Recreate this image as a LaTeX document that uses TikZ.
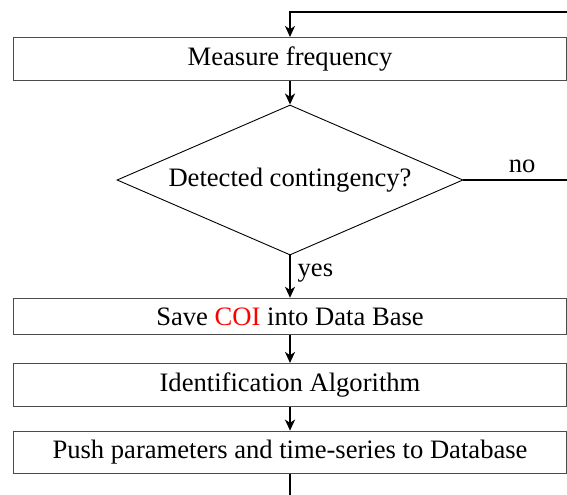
\documentclass[tikz,border=0pt]{standalone}
\usepackage{fontspec}
\setmainfont{Liberation Serif}
\usetikzlibrary{shapes.geometric,arrows.meta}
\begin{document}
\begin{tikzpicture}[x=0.5pt,y=-0.5pt,
  font=\fontsize{13.3}{16}\selectfont,
  stepbox/.style={draw=black!70, line width=0.6pt, minimum width=276.5pt, align=center,
    inner xsep=4.1pt, inner ysep=4.6pt},
  decision/.style={diamond, draw, line width=0.45pt, aspect=2.3, inner sep=1pt,
    minimum width=173pt, minimum height=75pt},
  flow/.style={line width=1pt, -{Stealth[length=5.5pt, width=5pt, inset=1.6pt]}},
  plain/.style={line width=1pt}]
  \useasboundingbox (0,0) rectangle (567,494);
  \clip (0,0) rectangle (567,494);

  % process steps and the decision
  \node[stepbox] (measure) at (290,59) {Measure frequency};
  \node[decision] (detect) at (290,180) {Detected contingency?};
  \node[stepbox] (save) at (290,316.5) {Save \textcolor{red}{COI} into Data Base};
  \node[stepbox] (ident) at (290,385) {Identification Algorithm};
  \node[stepbox] (push) at (290,452.5) {Push parameters and time-series to Database};

  % corners of the return loop and the outgoing tail
  \coordinate (loopA) at (600,180);
  \coordinate (loopB) at (600,12);
  \coordinate (loopC) at (290,12);
  \coordinate (tail) at (290,530);

  % main flow
  \draw[flow] (measure) -- (detect);
  \draw[flow] (detect) -- (save) node[right, pos=0.42] {yes};
  \draw[flow] (save) -- (ident);
  \draw[flow] (ident) -- (push);
  \draw[plain] (push) -- (tail);

  % "no" branch back to the measurement
  \draw[flow] (detect.east) -- node[above, pos=0.43] {no} (loopA) -- (loopB) -- (loopC) -- (measure.north);
\end{tikzpicture}
\end{document}
